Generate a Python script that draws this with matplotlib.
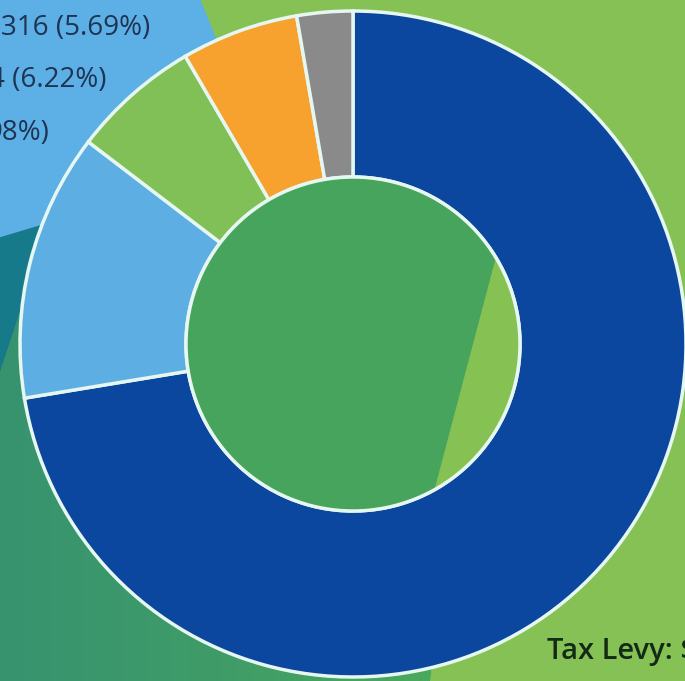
import matplotlib
matplotlib.use("Agg")
import matplotlib.pyplot as plt
import numpy as np
from matplotlib.patches import Polygon, Circle
from matplotlib.colors import LinearSegmentedColormap

plt.rcParams['font.family'] = ['Open Sans', 'DejaVu Sans']

# ring segments, clockwise from 12 o'clock
segments = ['General', 'Other A', 'Other B', 'Other C', 'Other D']
shares = [72.40, 12.98, 6.22, 5.69, 2.71]
seg_colors = ['#0c479f', '#5daee3', '#80c057', '#f7a12e', '#8a8a8a']

# partially visible labels (cut by the left edge)
label_texts = ['316 (5.69%)', '4 (6.22%)', '98%)']
label_x = [1, -11, -13]
label_y = [28, 80, 133]

W, H = 685, 681
cx, cy = 353, 344
r_out, r_in = 333, 167

fig = plt.figure(figsize=(W / 100, H / 100), dpi=100)
ax = fig.add_axes([0, 0, 1, 1])

# background shapes
ax.add_patch(Polygon([(0, 0), (W, 0), (W, H), (0, H)], closed=True, color='#86c155', zorder=0))
ax.add_patch(Polygon([(0, 0), (200, 0), (300, 250), (40, 226), (0, 238)], closed=True,
                     color='#5cb0e5', zorder=1))
ax.add_patch(Polygon([(0, 238), (40, 226), (120, 260), (22, 305), (0, 372)], closed=True,
                     color='#167a8a', zorder=1))
green_bg = Polygon([(0, 372), (22, 305), (300, 250), (480, 300), (430, H), (0, H)],
                   closed=True, facecolor='none', edgecolor='none', zorder=1)
ax.add_patch(green_bg)
grad = np.linspace(0, 1, 256).reshape(1, -1)
cmap_bg = LinearSegmentedColormap.from_list('bg', ['#37936f', '#3f9c68', '#4ba95d'])
img = ax.imshow(grad, cmap=cmap_bg, extent=(0, 440, H, 250), aspect='auto', zorder=1)
img.set_clip_path(green_bg)

ax.pie(shares, colors=seg_colors, radius=r_out, center=(cx, cy),
       startangle=-90, counterclock=True,
       wedgeprops=dict(width=r_out - r_in, edgecolor='#e6f7f1', linewidth=2.5),
       frame=True)

# centre disc with a lighter wedge on the right
hole = Circle((cx, cy), r_in, facecolor='#47a45c', edgecolor='none', zorder=3)
ax.add_patch(hole)
chord = Polygon([(564, 0), (W, 0), (W, H), (384, H)], closed=True, color='#86c153', zorder=4)
ax.add_patch(chord)
chord.set_clip_path(hole)
ax.add_patch(Circle((cx, cy), r_in, facecolor='none', edgecolor='#e6f7f1', linewidth=2.5, zorder=5))

for t, x, y in zip(label_texts, label_x, label_y):
    ax.text(x, y, t, fontsize=20, color='#1f3352', ha='left', va='center', zorder=6)

ax.text(547, 651, 'Tax Levy: $', fontsize=21, color='#132a17', fontweight='semibold',
        ha='left', va='center', zorder=6)

ax.set_xlim(0, W)
ax.set_ylim(H, 0)
ax.axis('off')

fig.savefig('out.png', dpi=100)
